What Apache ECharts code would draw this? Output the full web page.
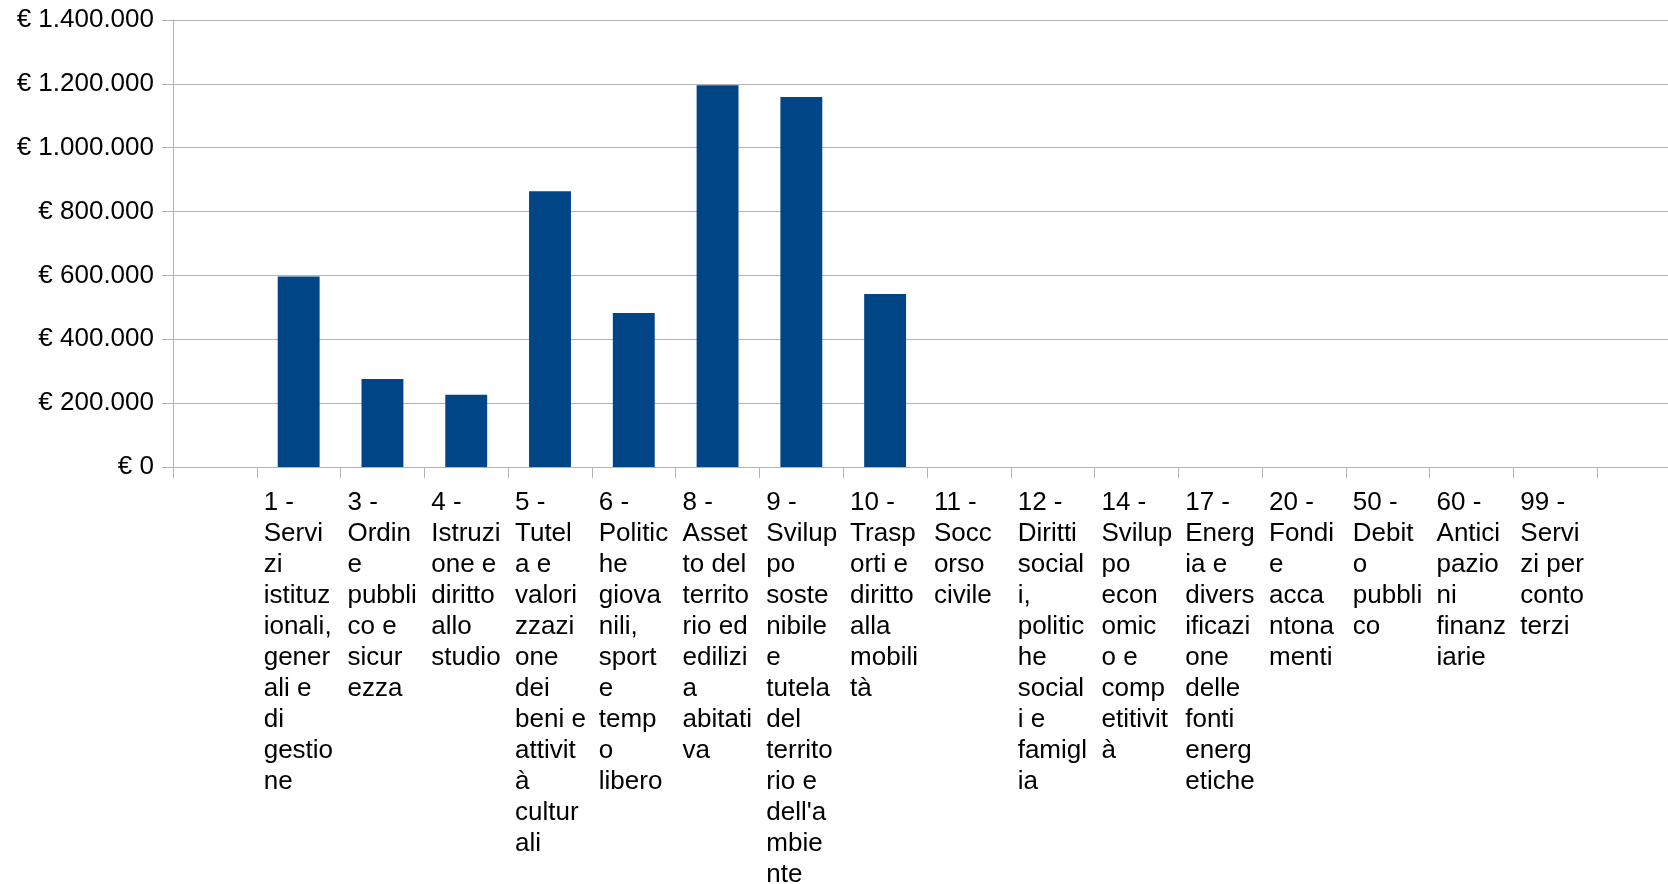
<!DOCTYPE html>
<html>
<head>
<meta charset="utf-8">
<script src="https://cdn.jsdelivr.net/npm/echarts@6/dist/echarts.min.js"></script>
<style>
  html, body { margin: 0; padding: 0; background: #ffffff; overflow: hidden; }
  #chart { width: 1668px; height: 884px; }
</style>
</head>
<body>
<div id="chart"></div>
<script>
// Mission labels, wrapped line by line as they appear under each column
const categories = [
  '',
  '1 -\nServi\nzi\nistituz\nionali,\ngener\nali e\ndi\ngestio\nne',
  '3 -\nOrdin\ne\npubbli\nco e\nsicur\nezza',
  '4 -\nIstruzi\none e\ndiritto\nallo\nstudio',
  '5 -\nTutel\na e\nvalori\nzzazi\none\ndei\nbeni e\nattivit\nà\ncultur\nali',
  '6 -\nPolitic\nhe\ngiova\nnili,\nsport\ne\ntemp\no\nlibero',
  '8 -\nAsset\nto del\nterrito\nrio ed\nedilizi\na\nabitati\nva',
  '9 -\nSvilup\npo\nsoste\nnibile\ne\ntutela\ndel\nterrito\nrio e\ndell\'a\nmbie\nnte',
  '10 -\nTrasp\norti e\ndiritto\nalla\nmobili\ntà',
  '11 -\nSocc\norso\ncivile',
  '12 -\nDiritti\nsocial\ni,\npolitic\nhe\nsocial\ni e\nfamigl\nia',
  '14 -\nSvilup\npo\necon\nomic\no e\ncomp\netitivit\nà',
  '17 -\nEnerg\nia e\ndivers\nificazi\none\ndelle\nfonti\nenerg\netiche',
  '20 -\nFondi\ne\nacca\nntona\nmenti',
  '50 -\nDebit\no\npubbli\nco',
  '60 -\nAntici\npazio\nni\nfinanz\niarie',
  '99 -\nServi\nzi per\nconto\nterzi',
  ''
];

// Spending per mission (euro)
const values = [
  null,
  597000,
  275500,
  226000,
  864000,
  482000,
  1196000,
  1159000,
  542000,
  0,
  0,
  0,
  0,
  0,
  0,
  0,
  0,
  null
];

// Value axis ticks
const yMin = 0;
const yMax = 1400000;
const yStep = 200000;

const FONT = '"Liberation Sans", Arial, sans-serif';
const GRID_COLOR = '#b3b3b3';

function euro(v) {
  const s = String(Math.round(v)).replace(/\B(?=(\d{3})+(?!\d))/g, '.');
  return '€ ' + s;
}

const chart = echarts.init(document.getElementById('chart'), null, { renderer: 'canvas' });

chart.setOption({
  animation: false,
  backgroundColor: '#ffffff',
  grid: {
    left: 173,
    top: 20,
    bottom: 417,
    right: -13,
    containLabel: false,
    outerBoundsMode: 'none'
  },
  xAxis: {
    type: 'category',
    data: categories,
    boundaryGap: true,
    axisLine: { show: true, lineStyle: { color: GRID_COLOR, width: 1 } },
    axisTick: { show: true, length: 11, lineStyle: { color: GRID_COLOR, width: 1 } },
    axisLabel: {
      interval: 0,
      margin: 20,
      hideOverlap: false,
      color: '#000000',
      fontFamily: FONT,
      fontSize: 26,
      lineHeight: 31,
      verticalAlign: 'top',
      align: 'center',
      formatter: function (v) {
        if (!v) return '';
        return v.split('\n').map(function (l) { return '{t|' + l + '}'; }).join('\n');
      },
      rich: {
        t: {
          width: 70,
          align: 'left',
          fontFamily: FONT,
          fontSize: 26,
          lineHeight: 31,
          color: '#000000'
        }
      }
    },
    splitLine: { show: false }
  },
  yAxis: {
    type: 'value',
    min: yMin,
    max: yMax,
    interval: yStep,
    axisLine: { show: true, lineStyle: { color: GRID_COLOR, width: 1 } },
    axisTick: { show: true, length: 11, lineStyle: { color: GRID_COLOR, width: 1 } },
    axisLabel: {
      margin: 19,
      color: '#000000',
      fontFamily: FONT,
      fontSize: 26,
      formatter: euro
    },
    splitLine: { show: true, lineStyle: { color: GRID_COLOR, width: 1 } }
  },
  series: [{
    type: 'bar',
    data: values,
    barWidth: '50%',
    itemStyle: { color: '#004586' },
    emphasis: { disabled: true }
  }]
});
</script>
</body>
</html>
